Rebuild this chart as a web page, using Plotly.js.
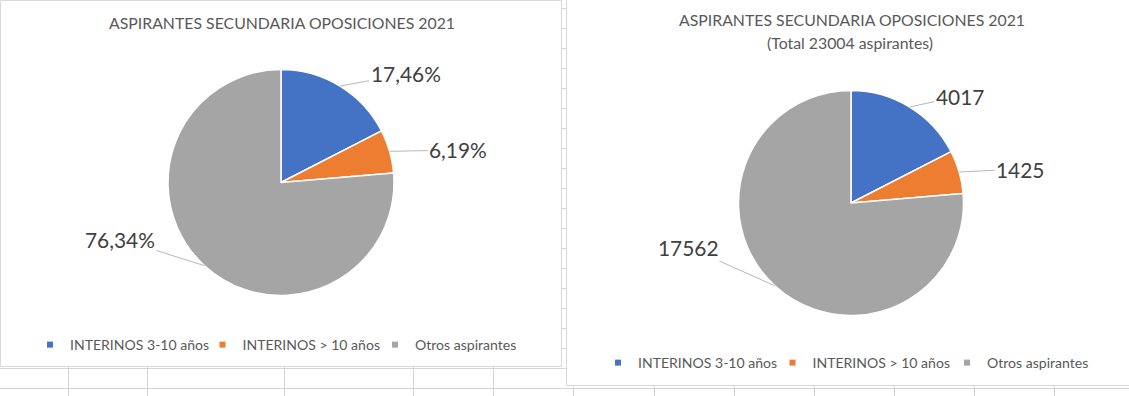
<!DOCTYPE html>
<html>
<head>
<meta charset="utf-8">
<script src="https://cdn.plot.ly/plotly-3.0.1.min.js"></script>
<style>
html, body { margin: 0; padding: 0; background: #ffffff; overflow: hidden; }
#chart { width: 1129px; height: 396px; }
</style>
</head>
<body>
<div id="chart"></div>
<script>
// ---------------- DATA ----------------
const categories = ['INTERINOS 3-10 años', 'INTERINOS > 10 años', 'Otros aspirantes'];
const percentValues = [17.46, 6.19, 76.34];
const countValues = [4017, 1425, 17562];
const chartTitle = 'ASPIRANTES SECUNDARIA OPOSICIONES 2021';
const sliceColors = ['#4472C4', '#ED7D31', '#A5A5A5'];

// derived label texts
const percentLabels = percentValues.map(v => v.toFixed(2).replace('.', ',') + '%');
const countLabels = countValues.map(v => String(v));
const totalCount = countValues.reduce((a, b) => a + b, 0);
const subTitle = '(Total ' + totalCount + ' aspirantes)';

// ---------------- LAYOUT HELPERS ----------------
const W = 1129, H = 396;
const X = p => p / W;
const Y = p => 1 - p / H;
const FONT = 'Lato, "Open Sans", "DejaVu Sans", sans-serif';
const ctx = document.createElement('canvas').getContext('2d');
function fit(texts, target) {
  ctx.font = '100px ' + FONT;
  const w = texts.reduce((s, t) => s + ctx.measureText(t).width, 0);
  return 100 * target / w;
}
const titleSize = fit([chartTitle], 347);
const labelSize = fit(percentLabels.concat(countLabels), 355);
const legendSize = fit(categories, 378);

const charts = [
  { values: percentValues, texts: percentLabels, cx: 281, cy: 182.5, r: 113,
    offsets: [[65.6, -12.1], [68.4, -1.4], [-84.5, -26.7]],
    legend: 'legend' },
  { values: countValues, texts: countLabels, cx: 851, cy: 203, r: 112.5,
    offsets: [[50.3, -11], [61, -3], [-86.8, -38.8]],
    legend: 'legend2' }
];

const traces = [];
const annotations = [];

charts.forEach((c, ci) => {
  traces.push({
    type: 'pie',
    values: c.values,
    labels: categories,
    sort: false,
    direction: 'clockwise',
    rotation: 0,
    textinfo: 'none',
    hoverinfo: 'label+value+percent',
    showlegend: false,
    marker: { colors: sliceColors, line: { color: '#ffffff', width: 1.5 } },
    domain: { x: [X(c.cx - c.r), X(c.cx + c.r)], y: [Y(c.cy + c.r), Y(c.cy - c.r)] }
  });
  const total = c.values.reduce((a, b) => a + b, 0);
  let cum = 0;
  c.values.forEach((v, i) => {
    const th = 2 * Math.PI * (cum + v / 2) / total;
    cum += v;
    const ex = c.cx + c.r * Math.sin(th);
    const ey = c.cy - c.r * Math.cos(th);
    annotations.push({
      xref: 'paper', yref: 'paper', x: X(ex), y: Y(ey),
      ax: c.offsets[i][0], ay: c.offsets[i][1],
      text: c.texts[i], showarrow: true, arrowhead: 0,
      arrowwidth: 0.8, arrowcolor: '#A6A6A6', standoff: 0,
      font: { family: FONT, size: labelSize, color: '#404040' }
    });
  });
  // legend entries (small square symbols like Excel)
  categories.forEach((cat, i) => {
    traces.push({
      type: 'scatter', x: [null], y: [null], mode: 'markers',
      name: cat, legend: c.legend, showlegend: true, hoverinfo: 'skip',
      marker: { symbol: 'square', size: 6, color: sliceColors[i] }
    });
  });
});

// titles
function titleAnn(text, cx, cy) {
  return {
    xref: 'paper', yref: 'paper', x: X(cx), y: Y(cy), showarrow: false,
    xanchor: 'center', yanchor: 'middle',
    text: text, font: { family: FONT, size: titleSize, color: '#595959' }
  };
}
annotations.push(titleAnn(chartTitle, 281.5, 23));
annotations.push(titleAnn(chartTitle, 852, 20));
annotations.push(titleAnn(subTitle, 850, 43));

// spreadsheet background: gridlines + chart boxes
const shapes = [];
const gridColor = '#D4D4D4';
for (let gy = 8.5; gy < H; gy += 20) {
  shapes.push({ type: 'line', xref: 'paper', yref: 'paper', layer: 'below',
    x0: 0, x1: 1, y0: Y(gy), y1: Y(gy), line: { color: gridColor, width: 1 } });
}
[68, 147, 284, 413, 493, 573, 654, 734, 814, 894, 974, 1054].forEach(gx => {
  shapes.push({ type: 'line', xref: 'paper', yref: 'paper', layer: 'below',
    x0: X(gx + 0.5), x1: X(gx + 0.5), y0: 0, y1: 1, line: { color: gridColor, width: 1 } });
});
shapes.push({ type: 'rect', xref: 'paper', yref: 'paper', layer: 'below',
  x0: X(0.5), x1: X(561.5), y0: Y(366.5), y1: Y(0.5),
  fillcolor: '#ffffff', line: { color: '#D9D9D9', width: 1 } });
shapes.push({ type: 'rect', xref: 'paper', yref: 'paper', layer: 'below',
  x0: X(566.5), x1: X(W + 5), y0: Y(385.5), y1: Y(-5),
  fillcolor: '#ffffff', line: { color: '#D9D9D9', width: 1 } });

const legendBase = {
  orientation: 'h', xanchor: 'left', yanchor: 'middle',
  bgcolor: 'rgba(0,0,0,0)', borderwidth: 0,
  font: { family: FONT, size: legendSize, color: '#595959' },
  entrywidthmode: 'pixels', itemclick: false, itemdoubleclick: false,
  traceorder: 'normal'
};

const layout = {
  width: W, height: H,
  margin: { l: 0, r: 0, t: 0, b: 0, pad: 0 },
  paper_bgcolor: '#ffffff', plot_bgcolor: 'rgba(0,0,0,0)',
  showlegend: true,
  xaxis: { visible: false, domain: [0, 0.005], fixedrange: true },
  yaxis: { visible: false, domain: [0, 0.005], fixedrange: true },
  legend: Object.assign({}, legendBase, { x: X(30), y: Y(345), entrywidth: 127.5 }),
  legend2: Object.assign({}, legendBase, { x: X(598), y: Y(363), entrywidth: 129.5 }),
  annotations: annotations,
  shapes: shapes,
  font: { family: FONT }
};

Plotly.newPlot('chart', traces, layout, { displayModeBar: false, responsive: false });
</script>
</body>
</html>
